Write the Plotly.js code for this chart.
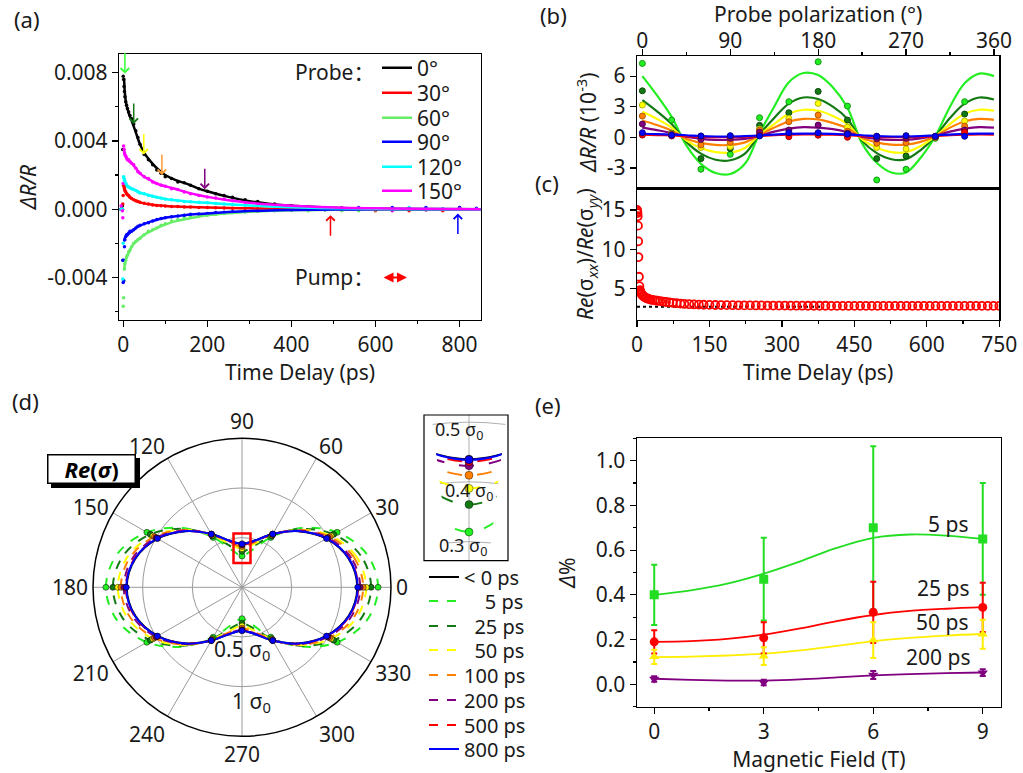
<!DOCTYPE html>
<html><head><meta charset="utf-8">
<script src="https://cdn.plot.ly/plotly-3.0.1.min.js"></script>
<style>body{margin:0;padding:0;background:#fff}#chart{width:1023px;height:773px}</style>
</head><body><div id="chart"></div><script>
// ---------- Panel (a): transient reflectivity vs delay ----------
const tA = [-5,-2,-1,0,1,2,3,4,6,8,10,13,16,20,25,30,35,40,50,60,70,80,90,100,115,130,145,160,180,200,220,240,260,290,320,360,400,440,480,520,560,600,640,680,720,760,800,840];
const a0 = [0,0.0002,0.0035,0.0078,0.0076,0.0072,0.0069,0.0066,0.0063,0.0061,0.0059,0.0057,0.0055,0.0053,0.0050,0.0046,0.0042,0.0038,0.0032,0.0029,0.0026,0.0023,0.0021,0.0019,0.0018,0.0016,0.00155,0.0014,0.0012,0.00105,0.0009,0.0008,0.0007,0.00055,0.00045,0.0003,0.0002,0.00012,0.00008,0.00005,0.00003,0,0.00003,-0.00002,0.00001,0,0.00002,-0.00001];
const a30 = [0,0,0.0003,0.0008,0.0014,0.0013,0.0012,0.0011,0.0010,0.0009,0.00085,0.0008,0.0007,0.00062,0.00055,0.0005,0.00045,0.0004,0.00034,0.0003,0.00025,0.00022,0.0002,0.00018,0.00016,0.00015,0.00013,0.00012,0.0001,0.0001,0.00008,0.00007,0.00006,0.00005,0.00004,0.00003,0.00002,0,0.00002,-0.00005,0,-0.0001,-0.00005,-0.0001,0,-0.0001,0.0001,0];
const a60 = [0,0,-0.003,-0.0057,-0.0052,-0.0042,-0.0035,-0.0032,-0.0030,-0.0028,-0.0027,-0.0025,-0.0024,-0.0022,-0.0020,-0.0019,-0.0018,-0.0017,-0.0015,-0.0013,-0.0012,-0.0011,-0.00095,-0.00085,-0.0007,-0.0006,-0.0005,-0.00045,-0.0004,-0.00035,-0.0003,-0.00025,-0.0002,-0.00016,-0.00012,-0.0001,-0.00008,-0.0001,-0.00005,-0.0001,-0.0001,-0.00005,-0.0001,0,-0.00005,0.00003,0.00005,0];
const a90 = [0,0,-0.003,-0.0043,-0.0042,-0.003,-0.0022,-0.0018,-0.0016,-0.0015,-0.0015,-0.0014,-0.0013,-0.0013,-0.0012,-0.0011,-0.001,-0.00095,-0.00085,-0.0008,-0.0007,-0.0006,-0.00055,-0.0005,-0.00045,-0.0004,-0.00035,-0.0003,-0.00028,-0.00025,-0.0002,-0.00018,-0.00015,-0.00012,-0.0001,-0.00008,-0.00005,0,-0.00003,0.00005,0.0001,0,0.0001,0,0.0001,0,0.0001,0.00005];
const a120 = [0,0,-0.0041,-0.002,0.0019,0.0018,0.0017,0.0016,0.0015,0.0014,0.00135,0.0013,0.00125,0.0012,0.00115,0.0011,0.001,0.00095,0.0009,0.0008,0.00075,0.0007,0.00065,0.0006,0.00055,0.0005,0.00045,0.00043,0.0004,0.00037,0.00033,0.0003,0.00027,0.00023,0.0002,0.00015,0.0001,0.00008,0.00006,0,0.00005,0.00003,0,0.0001,0,0.00002,0.00001,0];
const a150 = [0.0002,-0.0001,-0.0005,0.0015,0.0037,0.0035,0.0033,0.0032,0.0031,0.0030,0.0029,0.0029,0.0028,0.0027,0.0026,0.0024,0.0022,0.0021,0.0019,0.0018,0.0016,0.0015,0.0014,0.00135,0.0012,0.00115,0.001,0.0009,0.0008,0.00072,0.00065,0.0006,0.0005,0.0004,0.00033,0.00022,0.00018,0.00012,0.0001,0.00008,0.00005,0.00003,-0.0001,0.00004,-0.00005,0,0.00003,0];
const tFit = [2,4,7,10,15,20,30,40,50,65,80,100,125,150,175,200,250,300,350,400,500,600,700,850];
const f0 = [0.0077,0.0068,0.0062,0.0059,0.0055,0.0052,0.0045,0.0038,0.0033,0.0028,0.0024,0.0020,0.0017,0.0015,0.00125,0.00105,0.00072,0.00047,0.00031,0.0002,0.00008,0.00003,0.00001,0];
const f30 = [0.0014,0.0011,0.00095,0.00085,0.00072,0.00062,0.0005,0.0004,0.00034,0.00028,0.00023,0.00019,0.00015,0.00013,0.00011,0.0001,0.00007,0.00005,0.00003,0.00002,0.00001,0,0,0];
const f60 = [-0.0036,-0.0032,-0.0029,-0.0027,-0.0025,-0.0022,-0.0019,-0.0017,-0.0015,-0.0013,-0.0011,-0.0009,-0.0007,-0.00058,-0.00046,-0.00036,-0.00024,-0.00015,-0.0001,-0.00007,-0.00003,-0.00001,0,0];
const f90 = [-0.0019,-0.0017,-0.0016,-0.0015,-0.0014,-0.0013,-0.0011,-0.00097,-0.00086,-0.00073,-0.00062,-0.0005,-0.00042,-0.00034,-0.00029,-0.00025,-0.00017,-0.00011,-0.00008,-0.00005,-0.00002,-0.00001,0,0];
const f120 = [0.0018,0.0016,0.0015,0.00135,0.00127,0.0012,0.0011,0.00097,0.0009,0.0008,0.0007,0.0006,0.00052,0.00045,0.00041,0.00037,0.00029,0.00022,0.00016,0.00011,0.00005,0.00002,0.00001,0];
const f150 = [0.0036,0.0032,0.0031,0.0029,0.0028,0.0027,0.0024,0.0021,0.0019,0.0017,0.0015,0.00135,0.00118,0.001,0.00085,0.00072,0.00052,0.00038,0.00027,0.0002,0.0001,0.00005,0.00002,0];
const probeLabels = ['0°','30°','60°','90°','120°','150°'];
const probeColors = ['#000000','#ff0000','#66ee66','#0000ff','#00ffff','#ff00ff'];
const arrowT = [4,25,49,92,194,493,796];
const arrowTip = [0.00795,0.0050,0.0032,0.0020,0.00117,-0.00035,-0.00025];
const arrowColors = ['#33ff33','#137a13','#ffff00','#ff9933','#800080','#ff0000','#0000ff'];
const arrowDown = [true,true,true,true,true,false,false];

// ---------- Panel (b): probe polarization dependence (10^-3) ----------
const thetaFit = [0,15,30,45,60,75,90,105,120,135,150,165,180,195,210,225,240,255,270,285,300,315,330,345,360];
const bf5 = [6.0,4.1,2.0,-0.8,-2.6,-3.5,-3.6,-2.6,0.4,3.0,5.4,6.3,6.1,4.9,2.9,-0.6,-2.5,-3.45,-3.45,-2.0,0.1,3.0,5.3,6.25,6.0];
const bf25 = [3.65,2.55,1.3,-0.45,-1.6,-2.2,-2.25,-1.6,0.3,1.9,3.3,3.9,3.75,3.0,1.8,-0.35,-1.55,-2.15,-2.15,-1.25,0.1,1.9,3.3,3.9,3.7];
const bf50 = [2.5,1.8,0.95,-0.3,-1.05,-1.45,-1.5,-1.05,0.25,1.3,2.3,2.7,2.6,2.1,1.3,-0.2,-1.0,-1.45,-1.45,-0.85,0.1,1.3,2.3,2.7,2.6];
const bf100 = [1.65,1.2,0.65,-0.15,-0.55,-0.75,-0.75,-0.5,0.2,0.95,1.55,1.8,1.75,1.4,0.9,-0.05,-0.5,-0.72,-0.72,-0.45,0.1,0.95,1.55,1.8,1.7];
const bf200 = [0.95,0.7,0.42,0.05,-0.15,-0.25,-0.25,-0.15,0.15,0.55,0.85,1.0,0.95,0.8,0.5,0.05,-0.15,-0.25,-0.25,-0.1,0.15,0.55,0.85,1.0,0.95];
const bf500 = [0.25,0.22,0.18,0.12,0.05,0.02,0.02,0.05,0.12,0.2,0.25,0.28,0.27,0.25,0.2,0.12,0.05,0.02,0.02,0.05,0.12,0.2,0.25,0.28,0.27];
const bf800 = [0.35,0.32,0.27,0.2,0.12,0.08,0.08,0.12,0.18,0.27,0.33,0.36,0.36,0.33,0.27,0.2,0.12,0.08,0.08,0.12,0.2,0.27,0.33,0.36,0.36];
const thetaPts = [0,30,60,90,120,150,180,210,240,270,300,330];
const bp5 = [7.24,1.69,-3.13,-1.67,1.92,3.49,7.4,3.06,-4.18,-3.13,-0.1,3.49];
const bp25 = [4.56,0.4,-2.09,-1.11,1.17,2.41,4.5,1.69,-2.09,-1.83,0.0,2.28];
const bp50 = [3.16,0.35,-1.0,-0.9,0.8,1.85,3.32,1.0,-1.0,-1.14,0.0,1.6];
const bp100 = [2.08,0.3,-0.75,-0.5,0.7,1.53,2.18,0.6,-0.59,-0.53,0.0,1.1];
const bp200 = [1.3,0.25,-0.2,-0.1,0.5,0.71,1.2,0.4,-0.15,-0.1,0.05,0.71];
const bp500 = [0.22,0.13,0.1,0.1,0.2,0.06,0.2,0.0,0.1,0.1,0.1,0.5];
const bp800 = [0.45,0.2,0.13,0.16,0.13,0.45,0.45,0.3,0.1,0.16,0.1,0.1];
const delayColors = ['#22ee22','#137a13','#ffff00','#ff8000','#800080','#ff0000','#0000ff'];
const delayEdge = ['#119911','#0a4a0a','#b8b800','#b35900','#4d004d','#aa0000','#00008b'];

// ---------- Panel (c): conductivity ratio ----------
const tC = [0,0.5,1,1.5,2,2.5,3,4,5,6,7,8,10,12,14,17,20,24,28,32,37,42,48,54,60,67,74,82,90,98,108,118,128,138,150,162,174,186,198,210,222,234,246,258,270,282,294,306,318,330,342,354,366,378,390,402,414,426,438,450,462,474,486,498,510,522,534,546,558,570,582,594,606,618,630,642,654,666,678,690,702,714,726,738,750];
const ratioC = [15.0,14.8,14.6,14.2,13.0,11.0,9.0,6.5,5.3,4.8,4.6,4.45,4.25,4.1,3.98,3.86,3.77,3.68,3.6,3.55,3.5,3.45,3.4,3.34,3.29,3.24,3.19,3.14,3.08,3.04,3.01,2.98,2.96,2.94,2.92,2.91,2.90,2.89,2.88,2.87,2.86,2.86,2.85,2.85,2.84,2.84,2.83,2.83,2.82,2.82,2.82,2.81,2.81,2.81,2.81,2.80,2.80,2.80,2.80,2.80,2.80,2.80,2.80,2.80,2.80,2.80,2.80,2.80,2.80,2.80,2.80,2.80,2.80,2.80,2.80,2.80,2.80,2.80,2.80,2.80,2.80,2.80,2.80,2.80,2.80];
const limitX = [0,385];
const limitY = [2.68,2.68];

// ---------- Panel (d): polar Re(sigma) ----------
const thetaD = [0,15,30,45,60,75,90,105,120,135,150,165,180,195,210,225,240,255,270,285,300,315,330,345,360];
const rNeg = [1.160,1.112,0.980,0.799,0.619,0.486,0.438,0.486,0.619,0.799,0.980,1.112,1.160,1.112,0.980,0.799,0.619,0.486,0.438,0.486,0.619,0.799,0.980,1.112,1.160];
const r5 = [1.370,1.299,1.106,0.843,0.580,0.387,0.316,0.387,0.580,0.843,1.106,1.299,1.370,1.299,1.106,0.843,0.580,0.387,0.316,0.387,0.580,0.843,1.106,1.299,1.370];
const r25 = [1.300,1.237,1.066,0.831,0.597,0.425,0.362,0.425,0.597,0.831,1.066,1.237,1.300,1.237,1.066,0.831,0.597,0.425,0.362,0.425,0.597,0.831,1.066,1.237,1.300];
const r50 = [1.250,1.192,1.035,0.820,0.604,0.447,0.389,0.447,0.604,0.820,1.035,1.192,1.250,1.192,1.035,0.820,0.604,0.447,0.389,0.447,0.604,0.820,1.035,1.192,1.250];
const r100 = [1.220,1.166,1.018,0.816,0.613,0.465,0.411,0.465,0.613,0.816,1.018,1.166,1.220,1.166,1.018,0.816,0.613,0.465,0.411,0.465,0.613,0.816,1.018,1.166,1.220];
const r200 = [1.190,1.139,0.999,0.809,0.618,0.478,0.427,0.478,0.618,0.809,0.999,1.139,1.190,1.139,0.999,0.809,0.618,0.478,0.427,0.478,0.618,0.809,0.999,1.139,1.190];
const r500 = [1.170,1.121,0.986,0.802,0.618,0.483,0.434,0.483,0.618,0.802,0.986,1.121,1.170,1.121,0.986,0.802,0.618,0.483,0.434,0.483,0.618,0.802,0.986,1.121,1.170];
const r800 = [1.165,1.116,0.983,0.801,0.619,0.486,0.437,0.486,0.619,0.801,0.983,1.116,1.165,1.116,0.983,0.801,0.619,0.486,0.437,0.486,0.619,0.801,0.983,1.116,1.165];
const polarNames = ['&lt; 0 ps','\u00a0\u00a0\u00a0\u00a05 ps','\u00a0\u00a025 ps','\u00a0\u00a050 ps','100 ps','200 ps','500 ps','800 ps'];
const polarColors = ['#000000','#22ee22','#137a13','#ffff00','#ff8000','#800080','#ff0000','#0000ff'];
const polarDash = ['solid','dash','dash','dash','dash','dash','dash','solid'];
const angleTicks = [0,30,60,90,120,150,180,210,240,270,300,330];

// ---------- Panel (e): anisotropy vs magnetic field ----------
const field = [0,3,6,9];
const e5 = [0.40,0.47,0.70,0.65],   e5err = [0.135,0.185,0.365,0.25];
const e25 = [0.19,0.208,0.322,0.344], e25err = [0.052,0.07,0.137,0.11];
const e50 = [0.123,0.126,0.198,0.224], e50err = [0.032,0.04,0.08,0.065];
const e200 = [0.024,0.008,0.042,0.052], e200err = [0.012,0.012,0.018,0.015];
const fieldFit = [0,1,2,3,4,5,6,7,8,9];
const ef5 = [0.40,0.42,0.45,0.495,0.55,0.61,0.655,0.67,0.665,0.65];
const ef25 = [0.19,0.193,0.203,0.222,0.25,0.283,0.31,0.328,0.338,0.345];
const ef50 = [0.122,0.124,0.129,0.137,0.152,0.172,0.193,0.208,0.218,0.225];
const ef200 = [0.025,0.02,0.017,0.017,0.022,0.031,0.04,0.046,0.05,0.053];
const fieldLabels = ['5 ps','25 ps','50 ps','200 ps'];
const fieldColors = ['#22dd22','#ff0000','#ffee00','#800080'];
const fieldSymbols = ['square','circle','triangle-up','triangle-down'];

// ================= build =================
const FONT = 'Noto Sans, Noto Sans CJK SC, sans-serif';
const TXT = '#1a1a1a';
const W = 1023, H = 773;
const px = v => v / W;
const py = v => 1 - v / H;

const traces = [];
const legends = {};
const probeRowY = [68, 93, 118, 142, 167, 191];
const polarRowY = [577, 601, 626, 650, 675, 700, 725, 749];

// (a)
const aSeries = [a0,a30,a60,a90,a120,a150];
const aFits = [f0,f30,f60,f90,f120,f150];
aSeries.forEach((ys,i) => traces.push({type:'scatter', mode:'markers', x:tA, y:ys, xaxis:'x', yaxis:'y',
  marker:{size:3.5, color:probeColors[i]}, showlegend:false, hoverinfo:'skip'}));
aFits.forEach((ys,i) => {
  const lg = i === 0 ? 'legend' : 'legend' + (i + 1);
  legends[lg] = {x:px(377), xanchor:'left', y:py(probeRowY[i]), yanchor:'middle',
    bgcolor:'rgba(0,0,0,0)', borderwidth:0, font:{size:21, color:TXT}, itemwidth:30};
  traces.push({type:'scatter', mode:'lines', x:tFit, y:ys, xaxis:'x', yaxis:'y',
    line:{color:probeColors[i], width:2.5, shape:'spline'}, name:probeLabels[i], legend:lg, hoverinfo:'skip'});
});

// (b)
const bFits = [bf5,bf25,bf50,bf100,bf200,bf500,bf800];
const bPts = [bp5,bp25,bp50,bp100,bp200,bp500,bp800];
bFits.forEach((ys,i) => traces.push({type:'scatter', mode:'lines', x:thetaFit, y:ys, xaxis:'x2', yaxis:'y2',
  line:{color:delayColors[i], width:2.2, shape:'spline'}, showlegend:false, hoverinfo:'skip'}));
bPts.forEach((ys,i) => traces.push({type:'scatter', mode:'markers', x:thetaPts, y:ys, xaxis:'x2', yaxis:'y2',
  marker:{size:6, color:delayColors[i], line:{color:delayEdge[i], width:1}}, showlegend:false, hoverinfo:'skip'}));

// (c)
traces.push({type:'scatter', mode:'lines', x:limitX, y:limitY, xaxis:'x3', yaxis:'y3',
  line:{color:'#000', width:2, dash:'dot'}, showlegend:false, hoverinfo:'skip'});
traces.push({type:'scatter', mode:'markers', x:tC, y:ratioC, xaxis:'x3', yaxis:'y3',
  marker:{size:8, symbol:'circle-open', color:'#ff0000', line:{width:1.8, color:'#ff0000'}}, showlegend:false, hoverinfo:'skip'});

// (d)
const rAll = [rNeg,r5,r25,r50,r100,r200,r500,r800];
rAll.forEach((rs,i) => {
  const lg = 'legend' + (7 + i);
  legends[lg] = {x:px(424), xanchor:'left', y:py(polarRowY[i]), yanchor:'middle',
    bgcolor:'rgba(0,0,0,0)', borderwidth:0, font:{size:20, color:TXT}, itemwidth:30};
  traces.push({type:'scatterpolar', mode:'lines', r:rs, theta:thetaD, subplot:'polar',
    line:{color:polarColors[i], width:2, dash:polarDash[i], shape:'spline'},
    name:polarNames[i], legend:lg, hoverinfo:'skip'});
});
rAll.forEach((rs,i) => {
  if (i === 0) return;
  const rr = rs.filter((_,k) => k % 2 === 0 && k < 24);
  const tt = thetaD.filter((_,k) => k % 2 === 0 && k < 24);
  traces.push({type:'scatterpolar', mode:'markers', r:rr, theta:tt, subplot:'polar',
    marker:{size:6, color:polarColors[i], line:{color:'rgba(0,0,0,0.5)', width:1}}, showlegend:false, hoverinfo:'skip'});
});
// inset
rAll.forEach((rs,i) => {
  traces.push({type:'scatterpolar', mode:'lines', r:rs, theta:thetaD, subplot:'polar2',
    line:{color:polarColors[i], width:2, dash:(i===0||i===7)?'solid':'longdash', shape:'spline'}, showlegend:false, hoverinfo:'skip'});
});
rAll.forEach((rs,i) => {
  traces.push({type:'scatterpolar', mode:'markers', r:[rs[6]], theta:[thetaD[6]], subplot:'polar2',
    marker:{size:8, color:polarColors[i], line:{color:'rgba(0,0,0,0.4)', width:1}}, showlegend:false, hoverinfo:'skip'});
});

// (e)
const eFits = [ef5,ef25,ef50,ef200];
const ePts = [e5,e25,e50,e200];
const eErr = [e5err,e25err,e50err,e200err];
eFits.forEach((ys,i) => traces.push({type:'scatter', mode:'lines', x:fieldFit, y:ys, xaxis:'x4', yaxis:'y4',
  line:{color:fieldColors[i], width:1.8, shape:'spline'}, showlegend:false, hoverinfo:'skip'}));
ePts.forEach((ys,i) => traces.push({type:'scatter', mode:'markers', x:field, y:ys, xaxis:'x4', yaxis:'y4',
  marker:{size:9, symbol:fieldSymbols[i], color:fieldColors[i]},
  error_y:{type:'data', array:eErr[i], visible:true, color:fieldColors[i], thickness:2, width:3},
  showlegend:false, hoverinfo:'skip'}));

// axes
function ax(extra) {
  return Object.assign({showline:true, linecolor:'#000', linewidth:1.2, mirror:true, ticks:'outside',
    ticklen:6, tickwidth:1.2, tickcolor:'#000', showgrid:false, zeroline:false,
    tickfont:{size:21, color:TXT, family:FONT}}, extra);
}
const tfont = {size:21, color:TXT, family:FONT};

const annotations = [];
function label(text, x, y, size, extra) {
  annotations.push(Object.assign({xref:'paper', yref:'paper', x:px(x), y:py(y), text:text, showarrow:false,
    xanchor:'center', yanchor:'middle', font:{size:size, color:TXT}}, extra || {}));
}
// panel labels
label('(a)',27,19,22); label('(b)',553,15,22); label('(c)',547,183,22); label('(d)',25,401,22); label('(e)',548,405,22);
// arrows in (a)
arrowT.forEach((t,i) => {
  annotations.push({xref:'x', yref:'y', x:t, y:arrowTip[i], ax:0, ay:arrowDown[i] ? -22 : 22,
    text:'', showarrow:true, arrowhead:4, arrowsize:1.1, arrowwidth:1.5, arrowcolor:arrowColors[i], standoff:0});
});
// probe / pump
label('Probe：', 293, 72, 21, {xanchor:'left'});
label('Pump：', 293, 277, 21, {xanchor:'left'});
annotations.push({xref:'paper', yref:'paper', x:px(407), y:py(277.5), ax:-25, ay:0, text:'',
  showarrow:true, arrowside:'end+start', arrowhead:2, startarrowhead:2, arrowsize:1, startarrowsize:1, arrowwidth:2, arrowcolor:'#ff0000'});
// (d) radial labels
label('0.5 σ<sub>0</sub>', 242, 650, 21);
label('1 σ<sub>0</sub>', 251, 702, 21);
// inset labels
label('0.5 σ<sub>0</sub>', 459, 430, 18);
label('0.4 σ<sub>0</sub>', 469, 491, 18);
label('0.3 σ<sub>0</sub>', 463, 546, 18);
// Re(sigma) box
annotations.push({xref:'paper', yref:'paper', x:px(91), y:py(468.5), xanchor:'center', yanchor:'middle',
  text:'<b><i>Re</i>(<i>σ</i>)</b>', showarrow:false,
  font:{size:22, color:'#000'}, bgcolor:'#fff', bordercolor:'#000', borderwidth:1.5, width:84, height:25, borderpad:1});
// (e) labels
label(fieldLabels[0], 948, 524, 21); label(fieldLabels[1], 943, 588, 21);
label(fieldLabels[2], 942, 622, 21); label(fieldLabels[3], 938, 657, 21);

const shapes = [
  {type:'rect', xref:'paper', yref:'paper', x0:px(51), x1:px(140), y0:py(488), y1:py(458), fillcolor:'#000', line:{width:0}, layer:'above'},
  {type:'rect', xref:'paper', yref:'paper', x0:px(233.5), x1:px(250.5), y0:py(563), y1:py(533.5), line:{color:'#ff0000', width:2.5}},
  {type:'rect', xref:'paper', yref:'paper', x0:px(424), x1:px(508), y0:py(560.7), y1:py(415), line:{color:'#000', width:1.2}}
];

const layout = Object.assign({
  width:W, height:H, margin:{l:0,r:0,t:0,b:0, autoexpand:false}, paper_bgcolor:'#fff', plot_bgcolor:'#fff',
  font:{family:FONT, size:21, color:TXT}, showlegend:true,
  xaxis: ax({domain:[px(119),px(481)], anchor:'y', range:[-10,851], tickvals:[0,200,400,600,800],
    minor:{ticks:'outside', ticklen:3, dtick:100, tickcolor:'#000'}, title:{text:'Time Delay (ps)', font:tfont, standoff:0}}),
  yaxis: ax({domain:[py(320),py(54)], anchor:'x', range:[-0.0065,0.0091], tickvals:[-0.004,0,0.004,0.008],
    ticktext:['-0.004','0.000','0.004','0.008'], minor:{ticks:'outside', ticklen:3, dtick:0.002, tickcolor:'#000'},
    title:{text:'<i>ΔR/R</i>', font:tfont, standoff:4}}),
  xaxis2: ax({domain:[px(637),px(999.3)], anchor:'y2', side:'top', range:[-5.5,365.5], tickvals:[0,90,180,270,360],
    ticklabelstandoff:-8,
    minor:{ticks:'outside', ticklen:3, dtick:45, tickcolor:'#000'}, title:{text:'Probe polarization (°)', font:{size:21, color:TXT, family:FONT}, standoff:0}}),
  yaxis2: ax({domain:[py(188.3),py(55.7)], anchor:'x2', range:[-5,8], tickvals:[-3,0,3,6], ticktext:['-3','0','3','6'],
    title:{text:'<i>ΔR/R</i> (10<sup>-3</sup>)', font:tfont, standoff:4}}),
  xaxis3: ax({domain:[px(637),px(999.3)], anchor:'y3', range:[0,750], tickvals:[0,150,300,450,600,750],
    minor:{ticks:'outside', ticklen:3, dtick:75, tickcolor:'#000'}, title:{text:'Time Delay (ps)', font:tfont, standoff:0}}),
  yaxis3: ax({domain:[py(320),py(188.3)], anchor:'x3', range:[1,17.75], tickvals:[5,10,15],
    title:{text:'<i>Re</i>(σ<sub><i>xx</i></sub>)/<i>Re</i>(σ<sub><i>yy</i></sub>)', font:tfont, standoff:0}}),
  xaxis4: ax({domain:[px(636.7),px(1001)], anchor:'y4', range:[-0.48,9.5], tickvals:[0,3,6,9],
    minor:{ticks:'outside', ticklen:3, dtick:1.5, tickcolor:'#000'}, title:{text:'Magnetic Field (T)', font:tfont, standoff:4}}),
  yaxis4: ax({domain:[py(706.7),py(438.3)], anchor:'x4', range:[-0.1,1.1], tickvals:[0,0.2,0.4,0.6,0.8,1.0],
    ticktext:['0.0','0.2','0.4','0.6','0.8','1.0'], minor:{ticks:'outside', ticklen:3, dtick:0.1, tickcolor:'#000'},
    title:{text:'<i>Δ</i>%', font:tfont, standoff:14}}),
  polar: {
    domain:{x:[px(93),px(391)], y:[py(736.3),py(438.3)]}, bgcolor:'#fff',
    angularaxis:{rotation:0, direction:'counterclockwise', tickmode:'array', tickvals:angleTicks,
      ticktext:angleTicks.map(String), showline:true, linecolor:'#000', linewidth:1.5,
      gridcolor:'#9a9a9a', gridwidth:1, ticks:'', tickfont:{size:21, color:TXT}},
    radialaxis:{range:[0,1.5], tickvals:[0.5,1,1.5], showticklabels:false, showline:false, ticks:'',
      gridcolor:'#9a9a9a', gridwidth:1, angle:90}
  },
  polar2: {
    domain:{x:[px(431),px(507)], y:[py(720.7),py(415)]}, sector:[83,97], hole:0.5234, bgcolor:'#fff',
    radialaxis:{range:[0.268,0.512], tickvals:[0.3,0.4,0.5], showticklabels:false, showline:false, ticks:'',
      gridcolor:'#b0b0b0', gridwidth:1},
    angularaxis:{tickmode:'array', tickvals:[90], showticklabels:false, showline:false, ticks:'',
      gridcolor:'#b0b0b0', gridwidth:1}
  },
  annotations: annotations,
  shapes: shapes
}, legends);

Plotly.newPlot('chart', traces, layout, {displayModeBar:false, staticPlot:true});
</script></body></html>
